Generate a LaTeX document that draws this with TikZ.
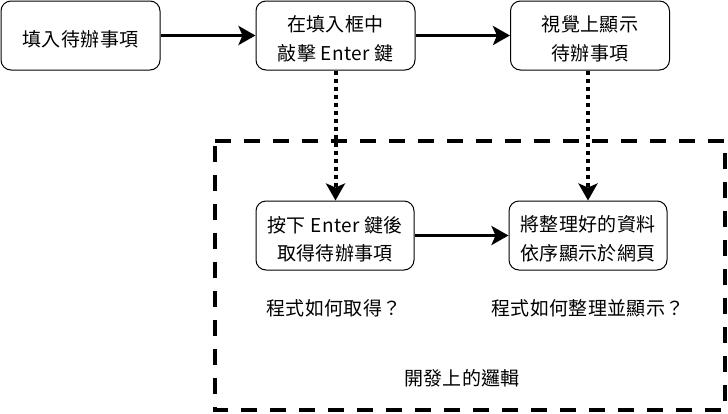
\documentclass[tikz,border=0pt]{standalone}
\usepackage{fontspec}
\newfontfamily\cjk[LetterSpace=2]{Noto Sans CJK TC}
\usetikzlibrary{arrows.meta}
\newcommand{\dn}[1]{\raisebox{-3.5pt}[\height][\depth]{#1}}
\begin{document}
\begin{tikzpicture}[x=1pt,y=-1pt,
  box/.style={draw, line width=1pt, rounded corners=10pt, minimum width=159pt, minimum height=69pt, align=center, inner sep=0pt, font=\cjk\fontsize{19}{28.5}\selectfont},
  txt/.style={align=center, inner sep=0pt, font=\cjk\fontsize{19}{28.5}\selectfont},
  solidarrow/.style={line width=3.5pt, -{Stealth[length=17pt, width=19pt, inset=4pt]}},
  dotarrow/.style={line width=4pt, dash pattern=on 4pt off 4pt, -{Stealth[length=17pt, width=19pt, inset=4pt]}},
  frame/.style={line width=4pt, dash pattern=on 16pt off 13pt}
]
\useasboundingbox (0,0) rectangle (728,413);
\node[box] (b1) at (80.5,35.5) {\dn{填入待辦事項}};
\node[box] (b2) at (335.5,35.5) {\dn{在填入框中}\\\dn{敲擊 Enter 鍵}};
\node[box] (b3) at (590,35.5) {\dn{視覺上顯示}\\\dn{待辦事項}};
\node[box, minimum width=158pt] (b4) at (335,235.5) {\dn{按下 Enter 鍵後}\\\dn{取得待辦事項}};
\node[box, minimum width=158pt] (b5) at (588,235.5) {\dn{將整理好的資料}\\\dn{依序顯示於網頁}};
\coordinate (fa) at (215,141);
\coordinate (fb) at (725,410);
\draw[frame] (fa) -- (fb |- fa) -- (fb) -- (fa |- fb) -- cycle;
\node[txt] (q1) at (334,308) {程式如何取得？};
\node[txt] (q2) at (588,308) {程式如何整理並顯示？};
\node[txt] (lg) at (462,378) {開發上的邏輯};
\draw[solidarrow] (b1) -- (b2);
\draw[solidarrow] (b2) -- (b3);
\draw[solidarrow] (b4) -- (b5);
\draw[dotarrow] (b2.south) -- (b2.south |- b4.north);
\draw[dotarrow] (b3.south -| b5.north) -- (b5.north);
\end{tikzpicture}
\end{document}
